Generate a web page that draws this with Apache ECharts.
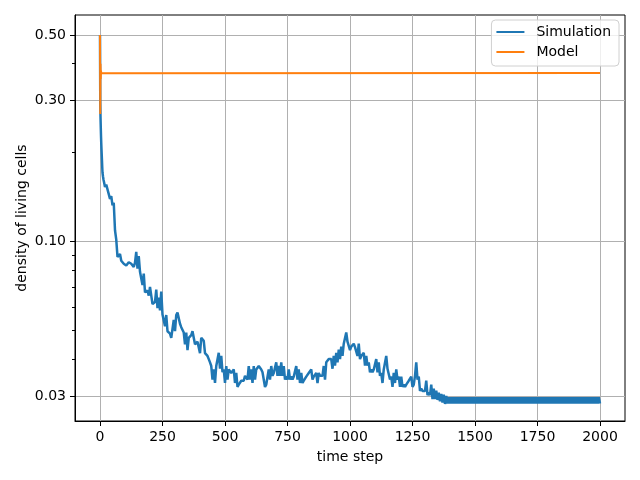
<!DOCTYPE html>
<html><head><meta charset="utf-8">
<script src="https://cdn.jsdelivr.net/npm/echarts@6/dist/echarts.min.js"></script>
<style>html,body{margin:0;padding:0;background:#fff}#c{width:640px;height:480px}</style>
</head><body><div id="c"></div>
<script>
const xTicks = [0, 250, 500, 750, 1000, 1250, 1500, 1750, 2000];
const yTicks = [0.03, 0.1, 0.3, 0.5];
const yMinorTicks = [0.04, 0.05, 0.06, 0.07, 0.08, 0.09, 0.2, 0.4];

const simEarlyT = [0, 1, 2, 3, 4, 5, 6, 7, 8, 9, 10, 12, 14, 16, 18];
const simEarlyV = [0.5, 0.30, 0.265, 0.245, 0.228, 0.215, 0.205, 0.196, 0.187, 0.178, 0.171, 0.166, 0.162, 0.159, 0.158];

const simStart = 20;
const simStep = 5;
const simV = [
  0.1531, 0.1558, 0.1502, 0.1497, 0.1394, 0.1425, 0.1326, 0.1353, 0.1092, 0.1015,
  0.0887, 0.0882, 0.0907, 0.0861, 0.0868, 0.0841, 0.0848, 0.0830, 0.0839, 0.0851,
  0.0858, 0.0841, 0.0829, 0.0820, 0.0848, 0.0923, 0.0809, 0.0892, 0.0790, 0.0800,
  0.0712, 0.0779, 0.0673, 0.0677, 0.0683, 0.0656, 0.0702, 0.0697, 0.0614, 0.0615,
  0.0624, 0.0687, 0.0595, 0.0646, 0.0585, 0.0677, 0.0566, 0.0574, 0.0517, 0.0564,
  0.0497, 0.0492, 0.0488, 0.0472, 0.0478, 0.0543, 0.0497, 0.0564, 0.0575, 0.0574,
  0.0527, 0.0513, 0.0507, 0.0492, 0.0449, 0.0492, 0.0429, 0.0472, 0.0478, 0.0482,
  0.0497, 0.0492, 0.0449, 0.0451, 0.0458, 0.0461, 0.0419, 0.0472, 0.0468, 0.0461,
  0.0419, 0.0420, 0.0410, 0.0400, 0.0390, 0.0379, 0.0341, 0.0369, 0.0332, 0.0379,
  0.0380, 0.0420, 0.0371, 0.0410, 0.0361, 0.0369, 0.0332, 0.0379, 0.0341, 0.0369,
  0.0371, 0.0359, 0.0361, 0.0369, 0.0332, 0.0359, 0.0322, 0.0328, 0.0332, 0.0338,
  0.0341, 0.0338, 0.0351, 0.0349, 0.0341, 0.0379, 0.0341, 0.0369, 0.0332, 0.0379,
  0.0341, 0.0369, 0.0371, 0.0379, 0.0380, 0.0369, 0.0361, 0.0359, 0.0322, 0.0328,
  0.0332, 0.0369, 0.0341, 0.0379, 0.0351, 0.0359, 0.0361, 0.0390, 0.0351, 0.0379,
  0.0351, 0.0390, 0.0351, 0.0379, 0.0341, 0.0349, 0.0341, 0.0369, 0.0341, 0.0349,
  0.0341, 0.0349, 0.0351, 0.0379, 0.0341, 0.0369, 0.0332, 0.0359, 0.0332, 0.0338,
  0.0341, 0.0349, 0.0351, 0.0359, 0.0361, 0.0369, 0.0341, 0.0349, 0.0351, 0.0359,
  0.0332, 0.0359, 0.0351, 0.0349, 0.0351, 0.0379, 0.0341, 0.0390, 0.0390, 0.0400,
  0.0400, 0.0400, 0.0371, 0.0410, 0.0380, 0.0420, 0.0390, 0.0431, 0.0400, 0.0441,
  0.0410, 0.0451, 0.0449, 0.0492, 0.0458, 0.0461, 0.0429, 0.0441, 0.0439, 0.0451,
  0.0439, 0.0441, 0.0410, 0.0451, 0.0400, 0.0410, 0.0410, 0.0420, 0.0380, 0.0410,
  0.0380, 0.0390, 0.0361, 0.0369, 0.0361, 0.0369, 0.0371, 0.0400, 0.0361, 0.0390,
  0.0351, 0.0359, 0.0332, 0.0369, 0.0371, 0.0410, 0.0371, 0.0369, 0.0341, 0.0349,
  0.0322, 0.0359, 0.0332, 0.0369, 0.0341, 0.0349, 0.0322, 0.0349, 0.0322, 0.0328,
  0.0322, 0.0328, 0.0332, 0.0338, 0.0341, 0.0349, 0.0322, 0.0328, 0.0351, 0.0390,
  0.0341, 0.0349, 0.0312, 0.0318, 0.0312, 0.0308, 0.0312, 0.0338, 0.0302, 0.0308,
  0.0302, 0.0328, 0.0293, 0.0318, 0.0293, 0.0313, 0.0291, 0.0308, 0.0288, 0.0305,
  0.0285, 0.0303, 0.0282, 0.0300,
  0.0283, 0.0297, 0.0283, 0.0297, 0.0283, 0.0297, 0.0283, 0.0297, 0.0283, 0.0297,
  0.0283, 0.0297, 0.0283, 0.0297, 0.0283, 0.0297, 0.0283, 0.0297, 0.0283, 0.0297,
  0.0283, 0.0297, 0.0283, 0.0297, 0.0283, 0.0297, 0.0283, 0.0297, 0.0283, 0.0297,
  0.0283, 0.0297, 0.0283, 0.0297, 0.0283, 0.0297, 0.0283, 0.0297, 0.0283, 0.0297,
  0.0283, 0.0297, 0.0283, 0.0297, 0.0283, 0.0297, 0.0283, 0.0297, 0.0283, 0.0297,
  0.0283, 0.0297, 0.0283, 0.0297, 0.0283, 0.0297, 0.0283, 0.0297, 0.0283, 0.0297,
  0.0283, 0.0297, 0.0283, 0.0297, 0.0283, 0.0297, 0.0283, 0.0297, 0.0283, 0.0297,
  0.0283, 0.0297, 0.0283, 0.0297, 0.0283, 0.0297, 0.0283, 0.0297, 0.0283, 0.0297,
  0.0283, 0.0297, 0.0283, 0.0297, 0.0283, 0.0297, 0.0283, 0.0297, 0.0283, 0.0297,
  0.0283, 0.0297, 0.0283, 0.0297, 0.0283, 0.0297, 0.0283, 0.0297, 0.0283, 0.0297,
  0.0283, 0.0297, 0.0283, 0.0297, 0.0283, 0.0297, 0.0283, 0.0297, 0.0283, 0.0297,
  0.0283, 0.0297, 0.0283, 0.0297, 0.0283, 0.0297, 0.0283, 0.0297, 0.0283, 0.0297,
  0.0283, 0.0297, 0.0283
];

const modelT = [0, 1, 2, 3, 4, 5, 2000];
const modelV = [0.5, 0.27, 0.40, 0.355, 0.378, 0.371, 0.372];

const simData = simEarlyT.map((t, i) => [t, simEarlyV[i]])
  .concat(simV.map((v, i) => [simStart + i * simStep, v]));
const modelData = modelT.map((t, i) => [t, modelV[i]]);

const FONT = 'DejaVu Sans';
const yMin = 0.02469, yMax = 0.5845;

const chart = echarts.init(document.getElementById('c'), null, {renderer: 'canvas'});
chart.setOption({
  animation: false,
  backgroundColor: '#fff',
  grid: {left: 75, right: 15, top: 15, bottom: 59, show: true, borderColor: '#000', borderWidth: 1, backgroundColor: 'transparent'},
  xAxis: {
    type: 'value', min: -100, max: 2100,
    name: 'time step', nameLocation: 'middle', nameGap: 29, nameMoveOverlap: false,
    nameTextStyle: {fontFamily: FONT, fontSize: 14, color: '#000'},
    axisLine: {show: true, onZero: false, lineStyle: {color: '#000', width: 1}},
    axisTick: {show: true, customValues: xTicks, length: 5, lineStyle: {color: '#000', width: 1}},
    axisLabel: {customValues: xTicks, margin: 9, fontFamily: FONT, fontSize: 14, color: '#000',
      formatter: v => String(Math.round(v))},
    splitLine: {show: true, lineStyle: {color: '#b0b0b0', width: 1}}
  },
  yAxis: [{
    type: 'log', logBase: 10, min: yMin, max: yMax,
    name: 'density of living cells', nameLocation: 'middle', nameGap: 46, nameMoveOverlap: false,
    nameTextStyle: {fontFamily: FONT, fontSize: 14, color: '#000'},
    axisLine: {show: true, onZero: false, lineStyle: {color: '#000', width: 1}},
    axisTick: {show: true, customValues: yTicks, length: 5, lineStyle: {color: '#000', width: 1}},
    axisLabel: {customValues: yTicks, margin: 9, fontFamily: FONT, fontSize: 14, color: '#000',
      formatter: v => Number(v).toFixed(2)},
    splitLine: {show: true, lineStyle: {color: '#b0b0b0', width: 1}},
    minorTick: {show: false}
  }, {
    type: 'log', logBase: 10, min: yMin, max: yMax, position: 'left',
    axisLine: {show: false, onZero: false},
    axisTick: {show: true, customValues: yMinorTicks, length: 3, lineStyle: {color: '#000', width: 1}},
    axisLabel: {show: false},
    splitLine: {show: false}
  }],
  legend: {
    data: ['Simulation', 'Model'], orient: 'vertical', right: 21, top: 20,
    icon: 'rect', itemWidth: 28, itemHeight: 2, itemGap: 4,
    textStyle: {fontFamily: FONT, fontSize: 14, color: '#000', lineHeight: 16, padding: [0, 0, 0, 7]},
    borderColor: '#d0d0d0', borderWidth: 1, borderRadius: 4,
    backgroundColor: 'rgba(255,255,255,0.8)', padding: [4, 8, 6, 5]
  },
  series: [{
    name: 'Simulation', type: 'line', data: simData, yAxisIndex: 0,
    showSymbol: false, symbol: 'none', color: '#1f77b4',
    lineStyle: {color: '#1f77b4', width: 2.5}
  }, {
    name: 'Model', type: 'line', data: modelData, yAxisIndex: 0,
    showSymbol: false, symbol: 'none', color: '#ff7f0e',
    lineStyle: {color: '#ff7f0e', width: 2}
  }]
});
</script></body></html>
